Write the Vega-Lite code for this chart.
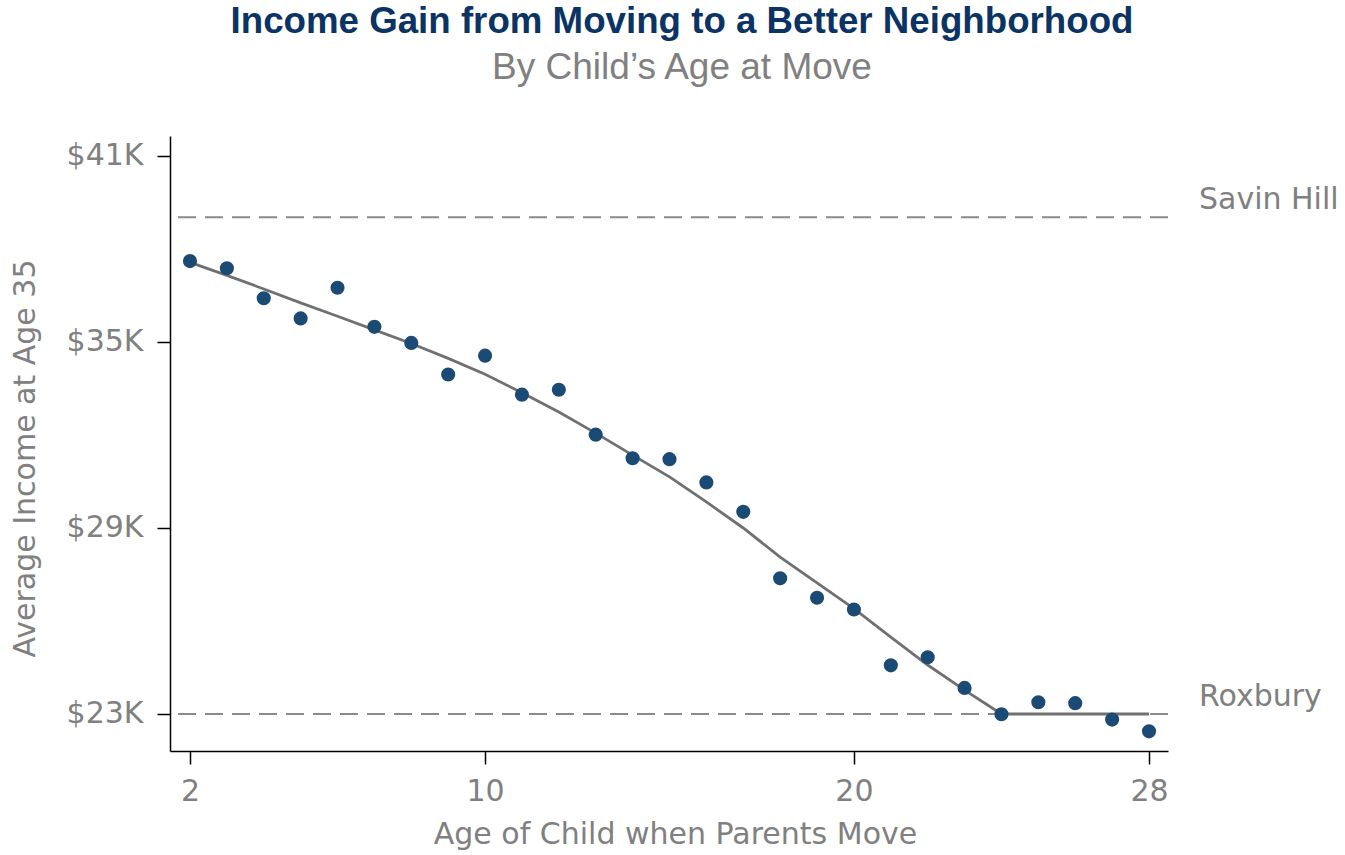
{
  "$schema": "https://vega.github.io/schema/vega-lite/v6.json",
  "width": 998,
  "height": 615,
  "autosize": {"type": "none"},
  "padding": {"left": 170, "top": 136, "right": 177, "bottom": 104},
  "background": "white",
  "config": {"view": {"stroke": null}},
  "title": {
    "text": "Income Gain from Moving to a Better Neighborhood",
    "subtitle": "By Child’s Age at Move",
    "font": "Liberation Sans, sans-serif",
    "fontSize": 36.7,
    "fontWeight": "bold",
    "color": "#0b3363",
    "subtitleFont": "Liberation Sans, sans-serif",
    "subtitleFontSize": 37,
    "subtitleColor": "#808080",
    "anchor": "middle",
    "frame": "group",
    "dx": 13,
    "offset": 50,
    "subtitlePadding": 9
  },
  "datasets": {
    "points": [
      {"age": 2, "income": 37.61}, {"age": 3, "income": 37.38}, {"age": 4, "income": 36.41},
      {"age": 5, "income": 35.76}, {"age": 6, "income": 36.75}, {"age": 7, "income": 35.49},
      {"age": 8, "income": 34.97}, {"age": 9, "income": 33.95}, {"age": 10, "income": 34.56},
      {"age": 11, "income": 33.3}, {"age": 12, "income": 33.46}, {"age": 13, "income": 32.01},
      {"age": 14, "income": 31.25}, {"age": 15, "income": 31.22}, {"age": 16, "income": 30.47},
      {"age": 17, "income": 29.52}, {"age": 18, "income": 27.38}, {"age": 19, "income": 26.75},
      {"age": 20, "income": 26.37}, {"age": 21, "income": 24.57}, {"age": 22, "income": 24.83},
      {"age": 23, "income": 23.84}, {"age": 24, "income": 22.99}, {"age": 25, "income": 23.38},
      {"age": 26, "income": 23.35}, {"age": 27, "income": 22.82}, {"age": 28, "income": 22.44}
    ],
    "fit": [
      {"age": 2, "income": 37.57}, {"age": 3, "income": 37.15}, {"age": 4, "income": 36.71},
      {"age": 5, "income": 36.26}, {"age": 6, "income": 35.83}, {"age": 7, "income": 35.39},
      {"age": 8, "income": 34.95}, {"age": 9, "income": 34.47}, {"age": 10, "income": 33.96},
      {"age": 11, "income": 33.36}, {"age": 12, "income": 32.74}, {"age": 13, "income": 32.06},
      {"age": 14, "income": 31.35}, {"age": 15, "income": 30.65}, {"age": 16, "income": 29.84},
      {"age": 17, "income": 29.0}, {"age": 18, "income": 28.06}, {"age": 19, "income": 27.23},
      {"age": 20, "income": 26.4}, {"age": 21, "income": 25.48}, {"age": 22, "income": 24.58},
      {"age": 23, "income": 23.77}, {"age": 24, "income": 23.0}, {"age": 25, "income": 23.0},
      {"age": 26, "income": 23.0}, {"age": 27, "income": 23.0}, {"age": 28, "income": 23.0}
    ],
    "refs": [
      {"area": "Savin Hill", "income": 39.02},
      {"area": "Roxbury", "income": 23.0}
    ]
  },
  "layer": [
    {
      "data": {"name": "refs"},
      "mark": {"type": "rule", "color": "#8a8a8a", "strokeWidth": 2, "strokeDash": [18, 9]},
      "encoding": {
        "y": {"field": "income", "type": "quantitative"}
      }
    },
    {
      "data": {"name": "refs"},
      "mark": {"type": "text", "align": "left", "baseline": "alphabetic", "dx": 31, "dy": -8, "font": "DejaVu Sans", "fontSize": 30, "color": "#808080"},
      "encoding": {
        "x": {"datum": 28.515, "type": "quantitative"},
        "y": {"field": "income", "type": "quantitative"},
        "text": {"field": "area"}
      }
    },
    {
      "data": {"name": "fit"},
      "mark": {"type": "line", "color": "#707070", "strokeWidth": 2.8},
      "encoding": {
        "x": {"field": "age", "type": "quantitative"},
        "y": {"field": "income", "type": "quantitative"}
      }
    },
    {
      "data": {"name": "points"},
      "mark": {"type": "point", "shape": "circle", "filled": true, "opacity": 1, "size": 200, "color": "#1b4a74"},
      "encoding": {
        "x": {
          "field": "age", "type": "quantitative",
          "scale": {"domain": [1.458, 28.515], "nice": false, "zero": false},
          "axis": {
            "values": [2, 10, 20, 28],
            "title": "Age of Child when Parents Move",
            "grid": false,
            "domainColor": "black", "domainWidth": 1.5,
            "tickColor": "black", "tickWidth": 1.5, "tickSize": 13,
            "labelFont": "DejaVu Sans", "labelFontSize": 30, "labelColor": "#808080",
            "labelPadding": 12, "labelBaseline": "top", "labelFlush": false,
            "titleFont": "DejaVu Sans", "titleFontSize": 30, "titleFontWeight": "normal", "titleColor": "#808080",
            "titleX": 505, "titleY": 92, "titleBaseline": "alphabetic", "titleAlign": "center"
          }
        },
        "y": {
          "field": "income", "type": "quantitative",
          "scale": {"domain": [21.806, 41.645], "nice": false, "zero": false},
          "axis": {
            "values": [23, 29, 35, 41],
            "labelExpr": "'$' + datum.value + 'K'",
            "title": "Average Income at Age 35",
            "grid": false,
            "domainColor": "black", "domainWidth": 1.5,
            "tickColor": "black", "tickWidth": 1.5, "tickSize": 13,
            "labelFont": "DejaVu Sans", "labelFontSize": 30, "labelColor": "#808080",
            "labelPadding": 14, "labelFlush": false,
            "titleFont": "DejaVu Sans", "titleFontSize": 30, "titleFontWeight": "normal", "titleColor": "#808080",
            "titleX": -136, "titleY": 322, "titleAngle": -90, "titleBaseline": "alphabetic", "titleAlign": "center"
          }
        }
      }
    }
  ]
}
